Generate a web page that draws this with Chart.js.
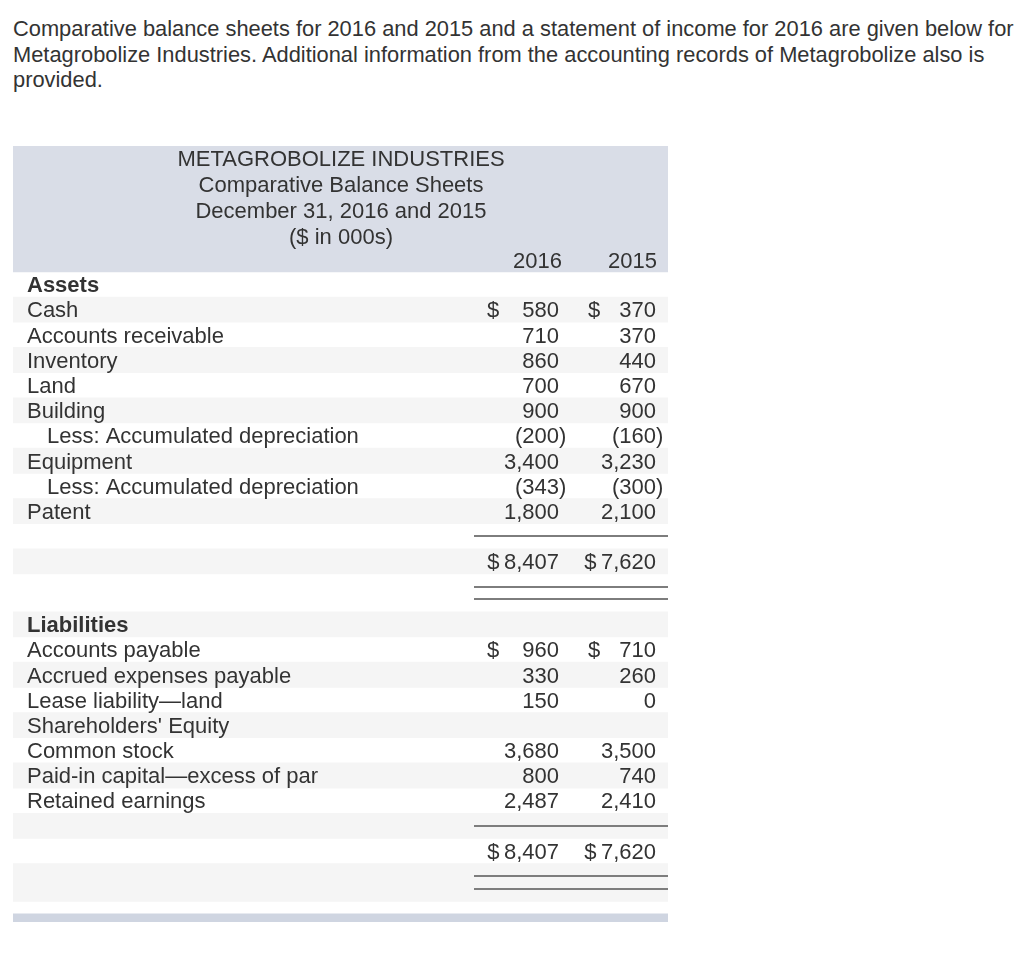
<!DOCTYPE html>
<html>
<head>
<meta charset="utf-8">
<script src="https://cdn.jsdelivr.net/npm/chart.js@4"></script>
<style>
  body { margin: 0; background: #fff; font-family: "Liberation Sans", Arial, sans-serif; color: #333; }
  #intro { position: absolute; left: 13px; top: 16px; font-size: 21.85px; line-height: 25.5px; white-space: nowrap; }
  #tabla { position: absolute; left: 0; top: 140px; }
</style>
</head>
<body>
<div id="intro">Comparative balance sheets for 2016 and 2015 and a statement of income for 2016 are given below for<br>Metagrobolize Industries. Additional information from the accounting records of Metagrobolize also is<br>provided.</div>
<canvas id="tabla" width="690" height="790"></canvas>
<script>
let titulo = ['METAGROBOLIZE INDUSTRIES', 'Comparative Balance Sheets', 'December 31, 2016 and 2015', '($ in 000s)'];
let anios = ['2016', '2015'];
let filas = ['Assets', 'Cash', 'Accounts receivable', 'Inventory', 'Land', 'Building',
    'Less: Accumulated depreciation', 'Equipment', 'Less: Accumulated depreciation', 'Patent',
    '', '', '', 'Liabilities', 'Accounts payable', 'Accrued expenses payable', 'Lease liability\u2014land',
    "Shareholders' Equity", 'Common stock', 'Paid-in capital\u2014excess of par', 'Retained earnings',
    '', '', ''];
let tipos = ['section', 'dollar', 'item', 'item', 'item', 'item', 'sub', 'item', 'sub', 'item',
    'rule', 'total', 'double', 'section', 'dollar', 'item', 'item', 'item', 'item', 'item', 'item',
    'rule', 'total', 'double'];
let valores2016 = [null, 580, 710, 860, 700, 900, -200, 3400, -343, 1800, null, 8407, null,
    null, 960, 330, 150, null, 3680, 800, 2487, null, 8407, null];
let valores2015 = [null, 370, 370, 440, 670, 900, -160, 3230, -300, 2100, null, 7620, null,
    null, 710, 260, 0, null, 3500, 740, 2410, null, 7620, null];

// layout in row units (1 row = ~25px)
let altoCabecera = 5;
let altoDoble = 1.5;
let topes = [];
let y = altoCabecera;
for (let i = 0; i < filas.length; i++) {
    topes.push(y);
    y += tipos[i] === 'double' ? altoDoble : 1;
}
let finTabla = y;

let franjas = [];
for (let i = 0; i < filas.length; i++) {
    if (i % 2 === 1) {
        franjas.push({x: 'tabla', y: [topes[i], topes[i] + (tipos[i] === 'double' ? altoDoble : 1)]});
    }
}

const fuente = '22px "Liberation Sans"';
const fuenteBold = 'bold 22px "Liberation Sans"';
const bajarTexto = 0.07;

function formato(v, tipo) {
    if (v === null) return '';
    let s = Math.abs(v).toLocaleString('en-US');
    if (v < 0) s = '(' + s + ')';
    if (tipo === 'total') s = '$\u2009' + s;
    return s;
}

const textoTabla = {
    id: 'textoTabla',
    afterDatasetsDraw(chart) {
        const c = chart.ctx;
        const ys = chart.scales.y;
        const xs = chart.scales.x2;
        c.save();
        c.fillStyle = '#333';
        c.textBaseline = 'middle';
        c.font = fuente;
        // header
        c.textAlign = 'center';
        for (let i = 0; i < titulo.length; i++) {
            c.fillText(titulo[i], xs.getPixelForValue(328), ys.getPixelForValue(0.48 + i * 1.03 + bajarTexto));
        }
        c.textAlign = 'right';
        c.fillText(anios[0], xs.getPixelForValue(549), ys.getPixelForValue(4.52 + bajarTexto));
        c.fillText(anios[1], xs.getPixelForValue(644), ys.getPixelForValue(4.52 + bajarTexto));
        // rows
        const parW = c.measureText(')').width;
        for (let i = 0; i < filas.length; i++) {
            const yc = ys.getPixelForValue(topes[i] + 0.5 + bajarTexto);
            c.textAlign = 'left';
            c.font = tipos[i] === 'section' ? fuenteBold : fuente;
            if (filas[i]) {
                c.fillText(filas[i], xs.getPixelForValue(tipos[i] === 'sub' ? 34 : 14), yc);
            }
            c.font = fuente;
            if (tipos[i] === 'dollar') {
                c.fillText('$', xs.getPixelForValue(474), yc);
                c.fillText('$', xs.getPixelForValue(575), yc);
            }
            c.textAlign = 'right';
            const a = valores2016[i], b = valores2015[i];
            if (a !== null) c.fillText(formato(a, tipos[i]), xs.getPixelForValue(546) + (a < 0 ? parW : 0), yc);
            if (b !== null) c.fillText(formato(b, tipos[i]), xs.getPixelForValue(643) + (b < 0 ? parW : 0), yc);
            // rules under the value columns
            c.strokeStyle = '#7d7d7d';
            c.lineWidth = 2;
            let reglas = [];
            if (tipos[i] === 'rule') reglas = [topes[i] + 0.5];
            if (tipos[i] === 'double') reglas = [topes[i] + 0.5, topes[i] + 1];
            reglas.forEach(function(r) {
                const py = Math.round(ys.getPixelForValue(r));
                c.beginPath();
                c.moveTo(xs.getPixelForValue(461), py);
                c.lineTo(xs.getPixelForValue(655), py);
                c.stroke();
            });
        }
        c.restore();
    }
};

window.onload = function() {
    var ctx = document.getElementById('tabla').getContext('2d');
    var tabla = new Chart(ctx, {
        type: 'bar',
        data: {
            labels: ['tabla'],
            datasets: [{
                label: 'cabecera',
                data: [{x: 'tabla', y: [0, altoCabecera]}],
                backgroundColor: '#d9dde7'
            }, {
                label: 'franjas',
                data: franjas,
                backgroundColor: '#f5f5f5'
            }, {
                label: 'pie',
                data: [{x: 'tabla', y: [finTabla + 0.5, finTabla + 0.82]}],
                backgroundColor: '#cfd5e1'
            }]
        },
        options: {
            responsive: false,
            animation: false,
            events: [],
            layout: { padding: { left: 13, right: 22, top: 6, bottom: 8 } },
            datasets: {
                bar: { grouped: false, barPercentage: 1, categoryPercentage: 1, borderWidth: 0 }
            },
            plugins: { legend: { display: false }, tooltip: { enabled: false } },
            scales: {
                x: { display: false },
                x2: { type: 'linear', position: 'bottom', display: false, offset: false, min: 0, max: 655 },
                y: { display: false, reverse: true, min: 0, max: finTabla + 0.82 }
            }
        },
        plugins: [textoTabla]
    });
};
</script>
</body>
</html>
